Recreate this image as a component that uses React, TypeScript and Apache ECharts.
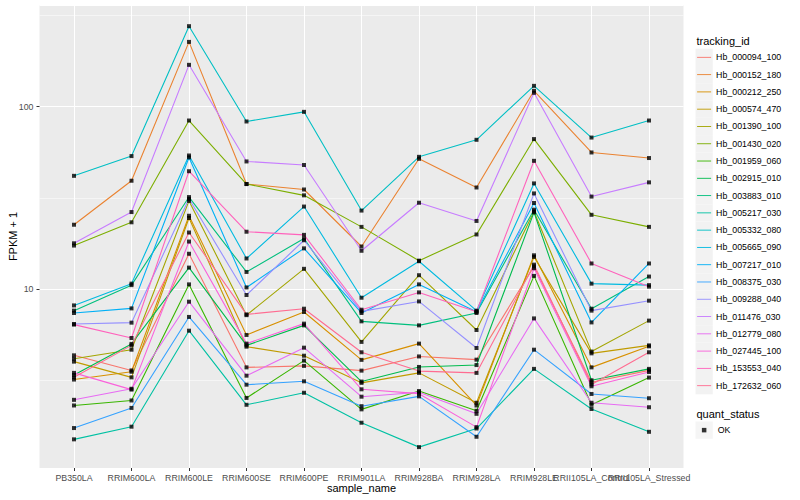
import React, { useEffect, useRef } from 'react';
import * as echarts from 'echarts';

const CATEGORIES = [
  'PB350LA', 'RRIM600LA', 'RRIM600LE', 'RRIM600SE', 'RRIM600PE', 'RRIM901LA',
  'RRIM928BA', 'RRIM928LA', 'RRIM928LE', 'RRII105LA_Control', 'RRII105LA_Stressed',
];

const TRACKING_IDS = [
  'Hb_000094_100', 'Hb_000152_180', 'Hb_000212_250', 'Hb_000574_470', 'Hb_001390_100',
  'Hb_001430_020', 'Hb_001959_060', 'Hb_002915_010', 'Hb_003883_010', 'Hb_005217_030',
  'Hb_005332_080', 'Hb_005665_090', 'Hb_007217_010', 'Hb_008375_030', 'Hb_009288_040',
  'Hb_011476_030', 'Hb_012779_080', 'Hb_027445_100', 'Hb_153553_040', 'Hb_172632_060',
];

const COLORS = [
  '#F8766D', '#EA8331', '#D89000', '#C09B00', '#A3A500',
  '#7CAE00', '#39B600', '#00BB4E', '#00BF7D', '#00C1A3',
  '#00BFC4', '#00BAE0', '#00B0F6', '#35A2FF', '#9590FF',
  '#C77CFF', '#E76BF3', '#FA62DB', '#FF62BC', '#FF6C91',
];

// FPKM + 1 per sample (same order as CATEGORIES)
const HB_000094_100 = [4.33, 3.58, 15.6, 3.72, 3.79, 3.57, 4.27, 4.10, 13.3, 3.08, 3.58];
const HB_000152_180 = [22.5, 39.2, 226, 37.6, 35.1, 17.1, 51.7, 36.0, 121.9, 56.0, 52.2];
const HB_000212_250 = [3.19, 3.52, 25.2, 5.60, 7.48, 4.09, 5.02, 2.30, 15.3, 3.72, 4.85];
const HB_000574_470 = [4.00, 3.28, 24.5, 4.83, 4.31, 3.06, 3.47, 2.38, 15.0, 4.44, 4.91];
const HB_001390_100 = [4.15, 4.65, 30.4, 7.19, 12.9, 5.13, 11.9, 5.96, 26.6, 4.54, 6.71];
const HB_001430_020 = [17.3, 23.2, 83.8, 37.6, 32.6, 21.9, 14.3, 19.9, 66.3, 25.5, 21.9];
const HB_001959_060 = [2.30, 2.45, 10.6, 2.53, 4.05, 2.19, 2.76, 2.15, 11.8, 2.32, 3.27];
const HB_002915_010 = [3.38, 5.00, 13.1, 4.91, 6.32, 3.11, 3.74, 3.83, 26.3, 3.16, 3.65];
const HB_003883_010 = [7.61, 10.5, 31.9, 12.4, 18.9, 6.65, 6.32, 7.39, 27.2, 7.80, 11.7];
const HB_005217_030 = [1.50, 1.76, 5.91, 2.32, 2.70, 1.85, 1.36, 1.72, 3.65, 2.20, 1.65];
const HB_005332_080 = [41.7, 53.5, 275.6, 82.8, 93.5, 26.9, 53.0, 65.7, 129.8, 67.6, 83.8];
const HB_005665_090 = [8.13, 10.7, 53.9, 14.7, 28.3, 8.96, 14.2, 7.61, 37.9, 10.7, 10.5];
const HB_007217_010 = [7.39, 7.83, 52.6, 10.2, 16.7, 7.39, 10.6, 7.51, 29.6, 6.56, 13.8];
const HB_008375_030 = [1.73, 2.23, 7.03, 2.99, 3.12, 2.28, 2.58, 1.55, 4.65, 2.66, 2.52];
const HB_009288_040 = [6.43, 6.54, 31.2, 9.27, 18.5, 7.54, 8.55, 4.75, 33.4, 7.61, 8.63];
const HB_011476_030 = [17.8, 26.4, 169.2, 50.0, 47.8, 16.2, 29.7, 23.6, 118.9, 32.1, 38.4];
const HB_012779_080 = [2.47, 2.84, 8.52, 3.35, 4.77, 2.57, 2.72, 2.07, 6.90, 2.38, 2.25];
const HB_027445_100 = [3.47, 2.81, 18.2, 5.02, 6.46, 2.82, 2.67, 1.75, 13.0, 2.93, 3.51];
const HB_153553_040 = [6.38, 5.39, 44.2, 20.6, 19.8, 7.70, 9.58, 7.51, 50.4, 13.8, 10.3];
const HB_172632_060 = [3.28, 4.91, 20.4, 7.26, 7.80, 4.50, 3.55, 3.47, 13.6, 3.00, 4.50];

const SERIES_VALUES = [
  HB_000094_100, HB_000152_180, HB_000212_250, HB_000574_470, HB_001390_100,
  HB_001430_020, HB_001959_060, HB_002915_010, HB_003883_010, HB_005217_030,
  HB_005332_080, HB_005665_090, HB_007217_010, HB_008375_030, HB_009288_040,
  HB_011476_030, HB_012779_080, HB_027445_100, HB_153553_040, HB_172632_060,
];

const QUANT_STATUS = ['OK'];
const Y_TICK_LABELS = [10, 100];
const Y_MIN = 1.045;
const Y_MAX = 360;

const FONT = '"Liberation Sans", Arial, Helvetica, sans-serif';

export default function App() {
  const ref = useRef<HTMLDivElement>(null);

  useEffect(() => {
    if (!ref.current) return;
    const chart = echarts.init(ref.current, null, { renderer: 'svg' });

    const panelLeft = 39.5;
    const panelWidth = 644;
    const panelTop = 5;
    const panelHeight = 463;
    const half = panelWidth * 0.6 / 11.2 - panelWidth / 11.2 * 0.5; // ggplot 0.6 expansion vs echarts 0.5
    const innerLeft = panelLeft + half;
    const innerWidth = panelWidth - 2 * half;

    const lineSeries = TRACKING_IDS.map((id, i) => ({
      type: 'line',
      name: id,
      xAxisIndex: 1,
      yAxisIndex: 1,
      data: SERIES_VALUES[i],
      symbol: 'none',
      showSymbol: false,
      silent: true,
      z: 2,
      lineStyle: { color: COLORS[i], width: 1.1 },
      itemStyle: { color: COLORS[i] },
      emphasis: { disabled: true },
    }));

    const pointSeries = TRACKING_IDS.map((id, i) => ({
      type: 'scatter',
      name: QUANT_STATUS[0],
      xAxisIndex: 1,
      yAxisIndex: 1,
      data: SERIES_VALUES[i],
      symbol: 'rect',
      symbolSize: 4,
      silent: true,
      z: 3,
      itemStyle: { color: '#000000' },
      emphasis: { disabled: true },
    }));

    const keySize = 17.28;
    const legendLeft = 695.5;
    const legendTop = 48.7;
    const qsTop = 421.5;
    const dot = 4.5;

    const option = {
      animation: false,
      backgroundColor: '#FFFFFF',
      textStyle: { fontFamily: FONT },
      grid: [
        {
          left: panelLeft, top: panelTop, width: panelWidth, height: panelHeight,
          show: true, backgroundColor: '#EBEBEB', borderWidth: 0,
        },
        {
          left: innerLeft, top: panelTop, width: innerWidth, height: panelHeight,
          show: false,
        },
      ],
      xAxis: [
        { gridIndex: 0, type: 'value', min: 0, max: 1, show: false },
        {
          gridIndex: 1,
          type: 'category',
          data: CATEGORIES,
          boundaryGap: true,
          axisLine: { show: false },
          axisTick: { show: true, alignWithLabel: true, length: 3, lineStyle: { color: '#333333', width: 1 } },
          axisLabel: {
            interval: 0, hideOverlap: false, margin: 5,
            fontSize: 8.8, color: '#4D4D4D', fontFamily: FONT,
          },
          splitLine: { show: true, alignWithLabel: true, lineStyle: { color: '#FFFFFF', width: 1.07 } },
        },
      ],
      yAxis: [
        {
          gridIndex: 0,
          type: 'log',
          logBase: 10,
          min: Y_MIN,
          max: Y_MAX,
          axisLine: { show: false },
          axisTick: { show: true, length: 3, lineStyle: { color: '#333333', width: 1 } },
          axisLabel: {
            margin: 6, fontSize: 8.8, color: '#4D4D4D', fontFamily: FONT,
            showMinLabel: false, showMaxLabel: false,
            formatter: (v: number) =>
              Y_TICK_LABELS.some((t) => Math.abs(v - t) < 1e-6 * t) ? String(Math.round(v)) : '',
          },
          splitLine: { show: true, lineStyle: { color: '#FFFFFF', width: 1.07 } },
        },
        {
          gridIndex: 1, type: 'log', logBase: 10, min: Y_MIN, max: Y_MAX, show: false,
        },
        {
          // minor gridlines halfway between decades (shifted log axis)
          gridIndex: 0, type: 'log', logBase: 10,
          min: Y_MIN * Math.sqrt(10), max: Y_MAX * Math.sqrt(10),
          position: 'left',
          axisLine: { show: false }, axisTick: { show: false }, axisLabel: { show: false },
          splitLine: { show: true, lineStyle: { color: '#FFFFFF', width: 0.53 } },
        },
      ],
      legend: [
        {
          // grey key boxes (no text)
          orient: 'vertical', left: legendLeft, top: legendTop, padding: 0,
          itemGap: 0, itemWidth: keySize, itemHeight: keySize, icon: 'rect',
          selectedMode: false,
          data: TRACKING_IDS.map((n) => ({ name: n, itemStyle: { color: '#F2F2F2', borderWidth: 0 } })),
          formatter: () => '',
          textStyle: { fontSize: 4 },
        },
        {
          // coloured key lines with labels
          orient: 'vertical', left: legendLeft + 1.6, top: legendTop, padding: 0,
          itemGap: 0, itemWidth: 14, itemHeight: keySize,
          icon: 'path://M0,0L20,0L20,1.3L0,1.3Z', symbolKeepAspect: true,
          selectedMode: false,
          data: TRACKING_IDS,
          textStyle: { fontSize: 8.8, color: '#000000', fontFamily: FONT, lineHeight: keySize },
        },
        {
          orient: 'vertical', left: legendLeft, top: qsTop, padding: 0,
          itemGap: 0, itemWidth: keySize, itemHeight: keySize, icon: 'rect',
          selectedMode: false,
          data: QUANT_STATUS.map((n) => ({ name: n, itemStyle: { color: '#F2F2F2', borderWidth: 0 } })),
          textStyle: { fontSize: 8.8, color: '#000000', fontFamily: FONT },
        },
        {
          orient: 'vertical', left: legendLeft + (keySize - dot) / 2, top: qsTop + (keySize - dot) / 2,
          padding: 0, itemGap: 0, itemWidth: dot, itemHeight: dot, icon: 'rect',
          selectedMode: false,
          data: QUANT_STATUS.map((n) => ({ name: n, itemStyle: { color: '#000000', borderWidth: 0 } })),
          formatter: () => '',
          textStyle: { fontSize: 4 },
        },
      ],
      graphic: [
        {
          type: 'text', x: panelLeft + panelWidth / 2, y: 488.3,
          style: {
            text: 'sample_name', fontSize: 11, fill: '#000000', fontFamily: FONT,
            textAlign: 'center', textVerticalAlign: 'middle', align: 'center', verticalAlign: 'middle',
          },
        },
        {
          type: 'text', x: 13.3, y: panelTop + panelHeight / 2, rotation: Math.PI / 2,
          style: {
            text: 'FPKM + 1', fontSize: 11, fill: '#000000', fontFamily: FONT,
            textAlign: 'center', textVerticalAlign: 'middle', align: 'center', verticalAlign: 'middle',
          },
        },
        {
          type: 'text', x: 696.5, y: 40.7,
          style: {
            text: 'tracking_id', fontSize: 11, fill: '#000000', fontFamily: FONT,
            textAlign: 'left', textVerticalAlign: 'middle', align: 'left', verticalAlign: 'middle',
          },
        },
        {
          type: 'text', x: 696.5, y: 413.5,
          style: {
            text: 'quant_status', fontSize: 11, fill: '#000000', fontFamily: FONT,
            textAlign: 'left', textVerticalAlign: 'middle', align: 'left', verticalAlign: 'middle',
          },
        },
      ],
      series: [...lineSeries, ...pointSeries],
    };

    chart.setOption(option as any);
    return () => chart.dispose();
  }, []);

  return (
    <div
      ref={ref}
      style={{ position: 'fixed', left: 0, top: 0, width: 800, height: 500 }}
    />
  );
}
